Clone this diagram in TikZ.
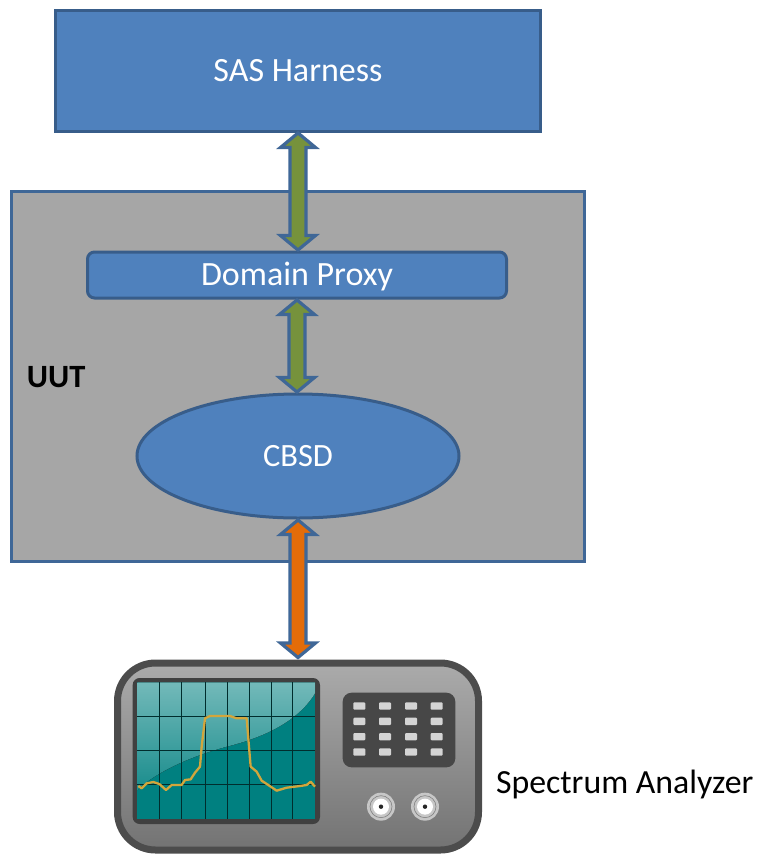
\documentclass[tikz,border=0pt]{standalone}
\usepackage{fontspec}
\setmainfont{Carlito}
\usetikzlibrary{shapes.geometric,calc}
\definecolor{boxfill}{HTML}{4F81BD}
\definecolor{boxline}{HTML}{385D8A}
\definecolor{uutfill}{HTML}{A6A6A6}
\definecolor{uutline}{HTML}{3F6797}
\definecolor{linkgreen}{HTML}{76923C}
\definecolor{linkorange}{HTML}{E36C09}
\definecolor{scopeteal}{HTML}{008080}
\definecolor{tracecol}{HTML}{D2A63C}
\tikzset{
  bluebox/.style={draw=boxline,fill=boxfill,line width=3pt,outer sep=0pt,inner sep=0pt,text=white,font=\fontsize{34}{38}\selectfont},
  uutbox/.style={draw=uutline,fill=uutfill,line width=3pt,outer sep=0pt,inner sep=0pt},
  linkarrow/.style={draw=uutline,line width=3.2pt,line join=miter,miter limit=10},
  plainlabel/.style={inner sep=0pt,outer sep=0pt,text=black},
  keybtn/.style={fill=black!17,rounded corners=1pt},
  gridline/.style={draw=black!65!scopeteal,line width=.9pt},
}
% double arrow between two named anchors: #1 top, #2 bottom, #3 fill
\newcommand{\linkarrowdraw}[3]{%
  \draw[linkarrow,fill=#3] let \p1=#1, \p2=#2 in
    (\x1,\y1-2pt) -- (\x1+17.5pt,\y1-16.5pt) -- (\x1+8pt,\y1-16.5pt)
    -- (\x1+8pt,\y2+16.5pt) -- (\x1+17.5pt,\y2+16.5pt) -- (\x1,\y2+2pt)
    -- (\x1-17.5pt,\y2+16.5pt) -- (\x1-8pt,\y2+16.5pt) -- (\x1-8pt,\y1-16.5pt)
    -- (\x1-17.5pt,\y1-16.5pt) -- cycle;}
\begin{document}
\begin{tikzpicture}[x=1pt,y=-1pt]
\useasboundingbox (0,0) rectangle (760,854);
\node[uutbox,minimum width=573pt,minimum height=370pt] (uut) at (297.5,376) {};
\node[bluebox,minimum width=485pt,minimum height=121pt] (sas) at (298,70.5) {SAS Harness};
\node[bluebox,rounded corners=7pt,minimum width=419pt,minimum height=46pt,text height=24pt,text depth=4pt] (proxy) at (297,275) {Domain Proxy};
\node[bluebox,ellipse,minimum width=322pt,minimum height=124pt,font=\fontsize{32.5}{36}\selectfont] (cbsd) at (298,456) {CBSD};
\node[plainlabel,font=\bfseries\fontsize{32.5}{36}\selectfont,anchor=west] (uutlabel) at (27,377) {UUT};
% analyzer body
\node[draw=black!70,line width=7pt,rounded corners=38pt,outer sep=3.5pt,inner sep=0pt,top color=black!33,bottom color=black!55,minimum width=361pt,minimum height=187pt] (analyzer) at (298,756.5) {};
\node[plainlabel,font=\fontsize{33.8}{38}\selectfont,anchor=west] (salabel) at (496,784) {Spectrum Analyzer};
\linkarrowdraw{(sas.south)}{(proxy.north)}{linkgreen}
\linkarrowdraw{(proxy.south)}{(cbsd.north)}{linkgreen}
\linkarrowdraw{(cbsd.south)}{(analyzer.north)}{linkorange}
\begin{scope}[shift={(100,650)},x=0.33333pt,y=-0.33333pt]
  % screen
  \fill[black!75,rounded corners=7pt] (98,84) rectangle (660,522);
  \fill[scopeteal] (112,97) rectangle (645,508);
  \fill[top color=scopeteal!55!white,bottom color=scopeteal!90!white]
    (112,97) -- (645,97) -- (645,130) .. controls (590,220) and (480,265) .. (380,290)
    .. controls (270,320) and (170,365) .. (112,420) -- cycle;
  \foreach \gx in {178,245,315,382,447,513,578}
    \draw[gridline] (\gx,97) -- (\gx,508);
  \foreach \gy in {200,302,403}
    \draw[gridline] (112,\gy) -- (645,\gy);
  \draw[tracecol,line width=2.3pt,line join=round]
    (115,408) -- (125,415) -- (140,400) -- (160,396) -- (178,402) -- (198,420) -- (215,405)
    -- (245,405) -- (255,390) -- (272,388) -- (285,368) -- (300,350) -- (305,290) -- (315,205)
    -- (330,198) -- (390,198) -- (410,205) -- (440,205) -- (447,290) -- (452,350) -- (470,365)
    -- (485,392) -- (505,405) -- (530,422) -- (560,413) -- (600,408) -- (620,405) -- (632,395) -- (645,410);
  % keypad
  \fill[black!72,rounded corners=9pt] (728,128) rectangle (1066,352);
  \foreach \kx in {778,855,933,1010}
    \foreach \ky in {168,214,260,306}
      \fill[keybtn] (\kx-18,\ky-11) rectangle (\kx+18,\ky+11);
  % sockets
  \foreach \sx in {843,975} {
    \fill[black!22] (\sx,470) circle[radius=14pt];
    \draw[black!50,line width=.6pt] (\sx,470) circle[radius=11pt];
    \fill[white] (\sx,470) circle[radius=8pt];
    \fill[black!85] (\sx,470) circle[radius=2.2pt];
  }
\end{scope}
\end{tikzpicture}
\end{document}
